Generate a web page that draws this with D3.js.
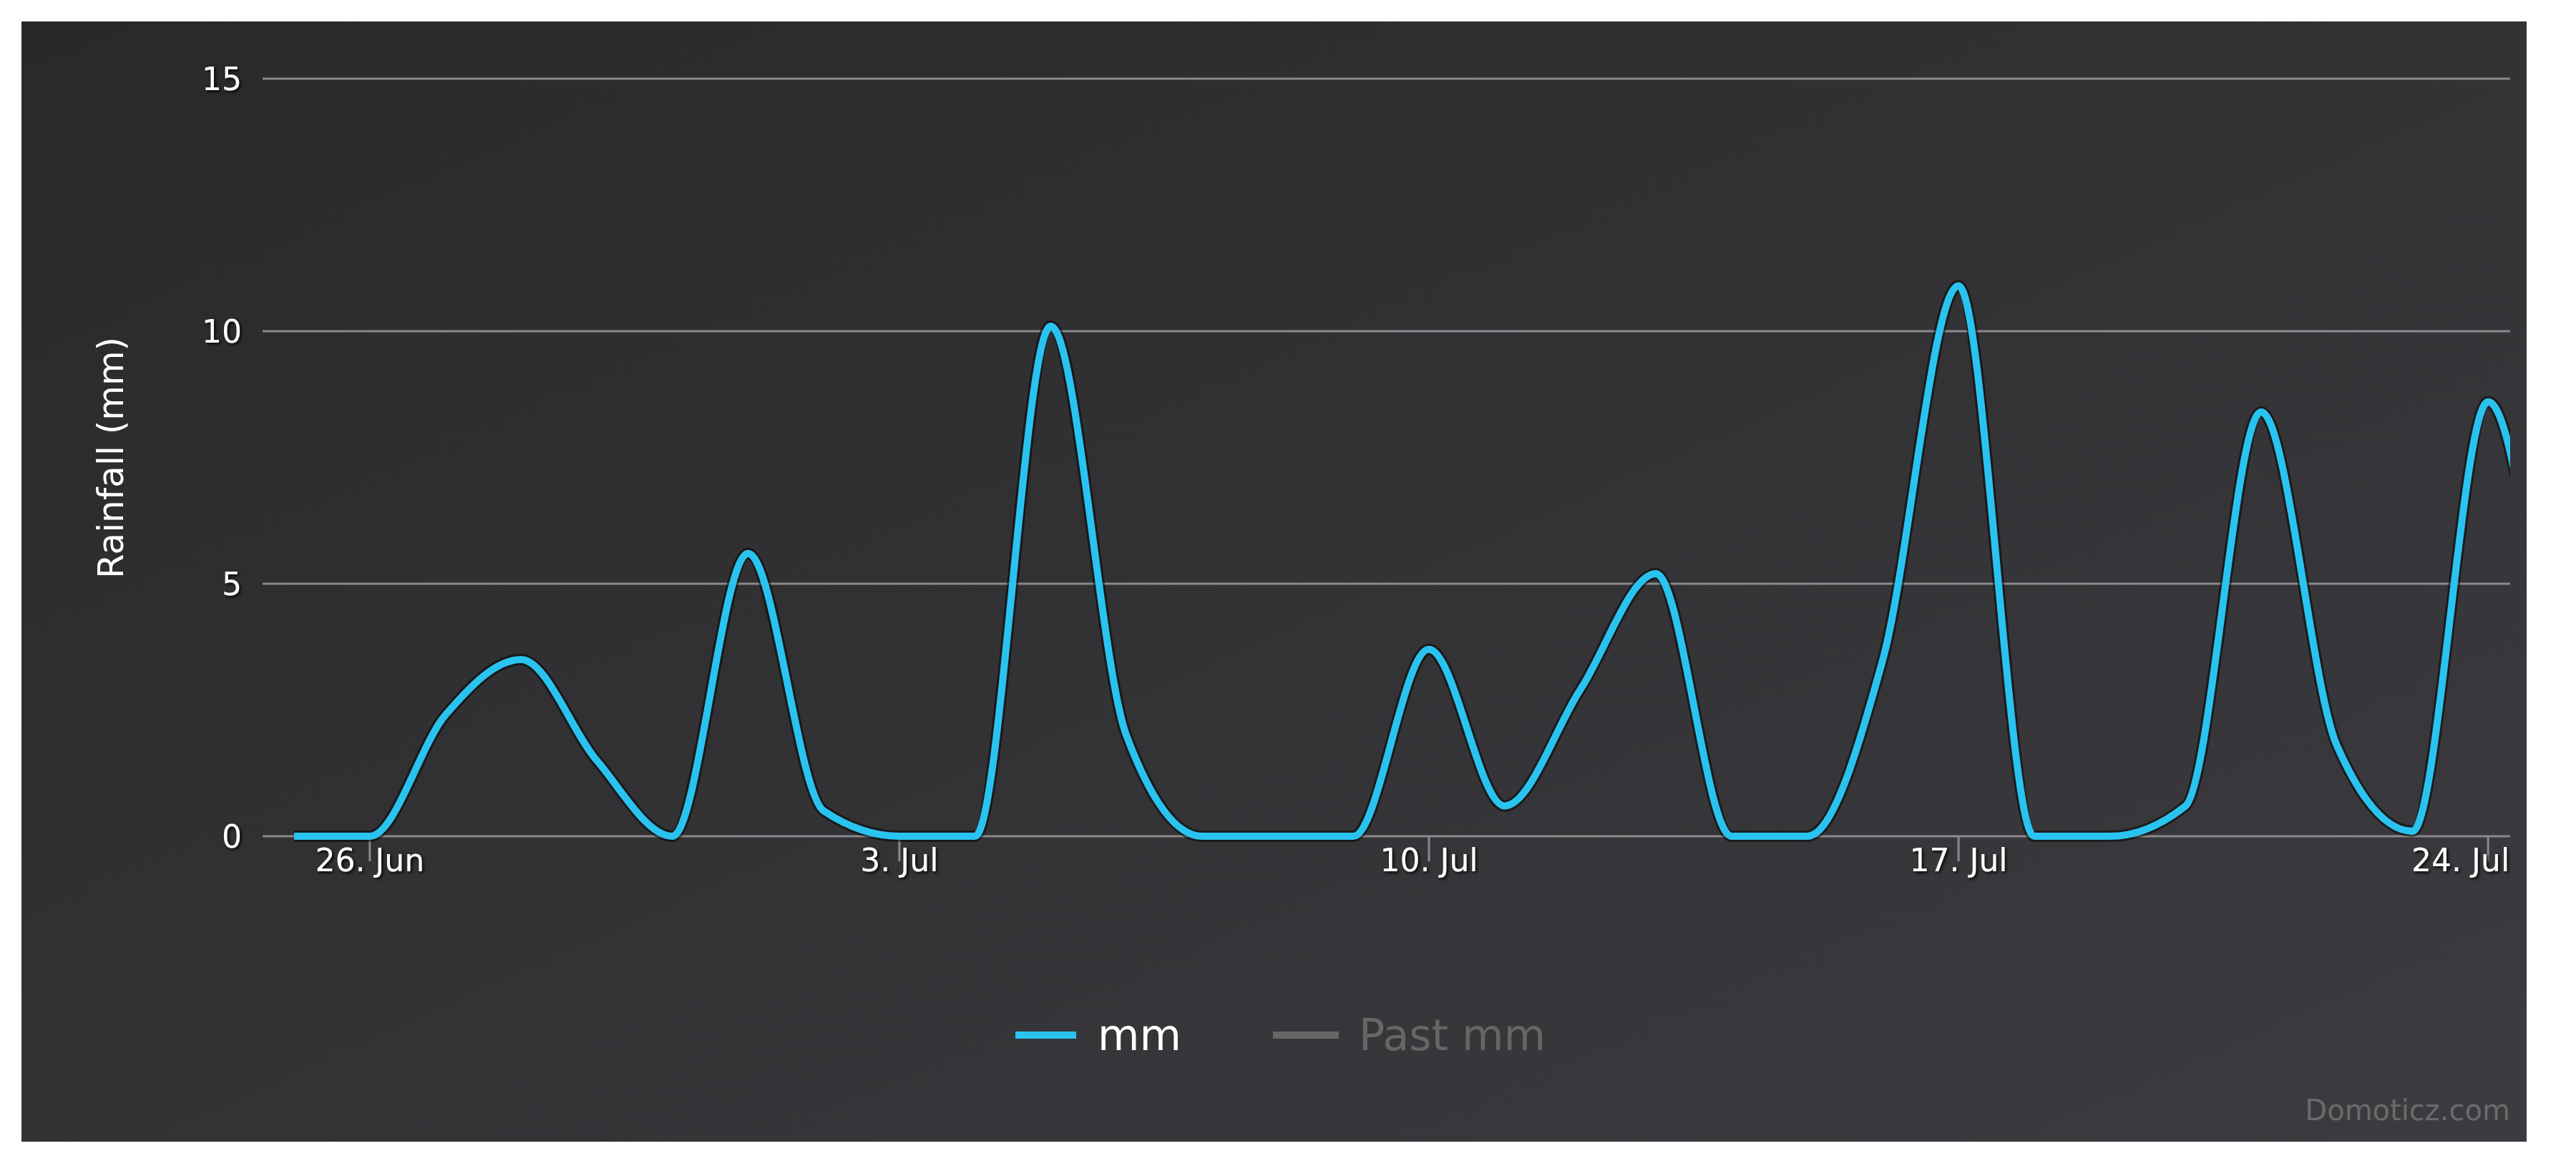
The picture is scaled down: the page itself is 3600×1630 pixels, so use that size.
<!DOCTYPE html>
<html>
<head>
<meta charset="utf-8">
<script src="https://cdn.jsdelivr.net/npm/d3@7"></script>
<style>
  body { margin: 0; background: #fff; }
  text { font-family: "DejaVu Sans", sans-serif; }
</style>
</head>
<body>
<svg id="chart" width="3600" height="1630"></svg>
<script>
// daily rainfall, 25 Jun .. 25 Jul
const days = d3.range(0, 31).map((i) => new Date(2017, 5, 25 + i));
const rainMm = [0, 0, 2.4, 3.5, 1.5, 0, 5.6, 0.5, 0, 0, 10.1, 2.0, 0, 0, 0, 3.7, 0.6, 2.9, 5.2, 0, 0, 3.5, 10.9, 0, 0, 0.6, 8.4, 1.8, 0.1, 8.6, 0];
const yTicks = [0, 5, 10, 15];
const xTickDates = [new Date(2017, 5, 26), new Date(2017, 6, 3), new Date(2017, 6, 10), new Date(2017, 6, 17), new Date(2017, 6, 24)];
const legendItems = ["mm", "Past mm"];

const svg = d3.select("#chart");
const plotLeft = 367, plotRight = 3508, plotTop = 110, plotBottom = 1169;

const defs = svg.append("defs");
const grad = defs.append("linearGradient").attr("id", "bg").attr("x1", 0).attr("y1", 0).attr("x2", 1).attr("y2", 1);
grad.append("stop").attr("offset", "0%").attr("stop-color", "#29292b");
grad.append("stop").attr("offset", "100%").attr("stop-color", "#3c3c40");
defs.append("clipPath").attr("id", "clip").append("rect")
  .attr("x", plotLeft).attr("y", 0).attr("width", plotRight - plotLeft).attr("height", 1400);
const sh = defs.append("filter").attr("id", "shadow");
sh.append("feDropShadow").attr("dx", 2).attr("dy", 2).attr("stdDeviation", 2).attr("flood-color", "#000");

svg.append("rect").attr("x", 30).attr("y", 30).attr("width", 3501).attr("height", 1566).attr("fill", "url(#bg)");

const x = d3.scaleTime()
  .domain([d3.timeHour.offset(xTickDates[0], -33.4), d3.timeHour.offset(xTickDates[4], 7.8)])
  .range([plotLeft, plotRight]);
const y = d3.scaleLinear().domain([0, 15]).range([plotBottom, plotTop]);

// grid lines
svg.append("g").selectAll("line").data(yTicks).join("line")
  .attr("x1", plotLeft).attr("x2", plotRight)
  .attr("y1", (d) => y(d)).attr("y2", (d) => y(d))
  .attr("stroke", "#8a8a8d").attr("stroke-width", 3);

// y labels
svg.append("g").selectAll("text").data(yTicks).join("text")
  .attr("x", 338).attr("y", (d) => y(d) + 16)
  .attr("text-anchor", "end").attr("fill", "#fff")
  .attr("font-size", 44).attr("filter", "url(#shadow)")
  .text((d) => d);

// x ticks
svg.append("g").selectAll("line").data(xTickDates).join("line")
  .attr("x1", (d) => x(d)).attr("x2", (d) => x(d))
  .attr("y1", plotBottom).attr("y2", plotBottom + 35)
  .attr("stroke", "#8a8a8d").attr("stroke-width", 3);
const fmt = d3.timeFormat("%-d. %b");
svg.append("g").selectAll("text").data(xTickDates).join("text")
  .attr("x", (d) => x(d)).attr("y", 1218)
  .attr("text-anchor", (d, i) => (i === xTickDates.length - 1 ? "end" : "middle"))
  .attr("dx", (d, i) => (i === xTickDates.length - 1 ? 30 : 0))
  .attr("fill", "#fff").attr("font-size", 44).attr("filter", "url(#shadow)")
  .text((d) => fmt(d));

// axis title
svg.append("text")
  .attr("transform", "translate(172,640) rotate(-90)")
  .attr("text-anchor", "middle").attr("fill", "#fff")
  .attr("font-size", 50).attr("font-family", "'Open Sans', sans-serif")
  .text("Rainfall (mm)");

// series
const line = d3.line().x((d, i) => x(days[i])).y((d) => y(d)).curve(d3.curveMonotoneX);
const g = svg.append("g").attr("clip-path", "url(#clip)");
g.append("path").datum(rainMm).attr("d", line)
  .attr("fill", "none").attr("stroke", "#000").attr("stroke-opacity", 0.5).attr("stroke-width", 16);
g.append("path").datum(rainMm).attr("d", line)
  .attr("fill", "none").attr("stroke", "#2ac3f0").attr("stroke-width", 10).attr("stroke-linejoin", "round");

// legend
const legendX = [1419, 1779];
const legendColors = ["#2ac3f0", "#666"];
const leg = svg.append("g").selectAll("g").data(legendItems).join("g")
  .attr("transform", (d, i) => `translate(${legendX[i]},1447)`);
leg.append("line").attr("x1", 0).attr("x2", (d, i) => (i === 0 ? 85 : 92))
  .attr("stroke", (d, i) => legendColors[i]).attr("stroke-width", 10);
leg.append("text").attr("x", (d, i) => (i === 0 ? 115 : 120)).attr("y", 21)
  .attr("font-size", 60).attr("font-family", "'Open Sans', sans-serif")
  .attr("fill", (d, i) => (i === 0 ? "#fff" : "#666"))
  .text((d) => d);

svg.append("text").attr("x", 3508).attr("y", 1566).attr("text-anchor", "end")
  .attr("fill", "#6a6a6a").attr("font-size", 40).text("Domoticz.com");
</script>
</body>
</html>
